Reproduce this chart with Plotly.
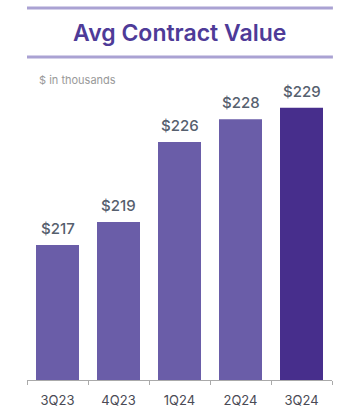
import plotly.graph_objects as go

# Average contract value by quarter ($ thousands)
quarters = ["3Q23", "4Q23", "1Q24", "2Q24", "3Q24"]
values = [217, 219, 226, 228, 229]
bar_colors = ["#6a5da8", "#6a5da8", "#6a5da8", "#6a5da8", "#472e8c"]

fig = go.Figure(
    go.Bar(
        x=quarters,
        y=values,
        marker=dict(color=bar_colors, line=dict(width=0)),
        hoverinfo="skip",
    )
)

# Value labels above bars
for q, v in zip(quarters, values):
    fig.add_annotation(
        x=q, y=v, text=f"${v}", showarrow=False,
        yanchor="bottom", yshift=5,
        font=dict(family="Inter", size=15, weight=500, color="#56606e"),
    )

# Header: rules, title and unit note
for yy in (1.1625, 1.009):
    fig.add_shape(type="line", xref="paper", yref="paper",
                  x0=0, x1=1.003, y0=yy, y1=yy,
                  line=dict(color="#aaa2d3", width=3))
fig.add_annotation(xref="paper", yref="paper", x=0.5, y=1.0844,
                   text="Avg Contract Value", showarrow=False,
                   xanchor="center", yanchor="middle",
                   font=dict(family="Inter", size=23, weight=600, color="#4e3b98"))
fig.add_annotation(xref="paper", yref="paper", x=0.033, y=0.9375,
                   text="$ in thousands", showarrow=False,
                   xanchor="left", yanchor="middle",
                   font=dict(family="Inter", size=11, color="#999999"))

fig.update_layout(
    width=338, height=417,
    margin=dict(l=27, r=6, t=60, b=37),
    paper_bgcolor="white", plot_bgcolor="white",
    bargap=0.295,
    showlegend=False,
    xaxis=dict(
        showline=True, linecolor="#aaaaaa", linewidth=1,
        ticks="outside", tickson="boundaries", ticklen=4, tickcolor="#aaaaaa",
        tickfont=dict(family="Inter", size=13, color="#4a4a55"),
        ticklabelstandoff=8,
        showgrid=False, zeroline=False,
    ),
    yaxis=dict(range=[205.2, 233.17], visible=False, showgrid=False),
)

fig.write_html("out.html")
